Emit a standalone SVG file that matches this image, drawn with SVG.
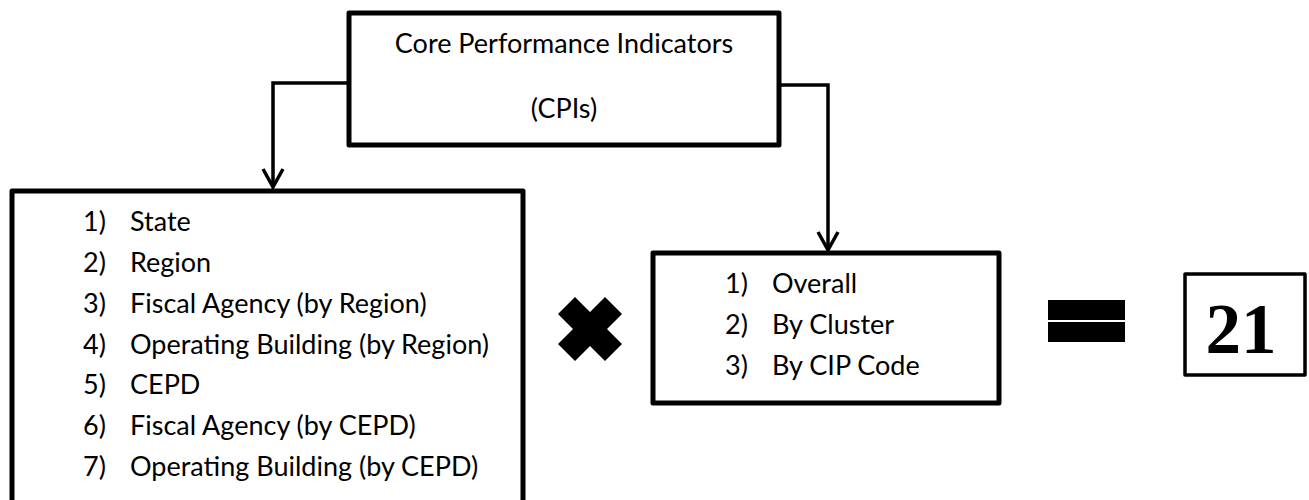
<svg xmlns="http://www.w3.org/2000/svg" width="1309" height="500" viewBox="0 0 1309 500">
<style>
.box{fill:#fff;stroke:#000;stroke-width:5;stroke-linejoin:round}
.t{font-family:Lato,"Open Sans","Liberation Sans",sans-serif;font-size:27px;fill:#000}
.c{text-anchor:middle}
.conn{fill:none;stroke:#000;stroke-width:3.5}
</style>
<defs>
<marker id="v" viewBox="-20 -12 22 24" markerWidth="22" markerHeight="24" refX="0" refY="0" orient="auto" markerUnits="userSpaceOnUse">
<path d="M-18,-10 L0,0 L-18,10" fill="none" stroke="#000" stroke-width="3.5"/>
</marker>
</defs>
<rect width="1309" height="500" fill="#fff"/>
<g id="connectors">
<path class="conn" d="M349,83 H273 V187" marker-end="url(#v)"/>
<path class="conn" d="M779,85 H828 V250" marker-end="url(#v)"/>
</g>
<g id="cpi">
<rect class="box" x="349" y="13" width="430" height="132"/>
<text class="t c" x="564" y="53">Core Performance Indicators</text>
<text class="t c" x="564" y="118">(CPIs)</text>
</g>
<g id="levels">
<rect class="box" x="12" y="191" width="511" height="320"/>
<text class="t" x="83" y="231">1)</text><text class="t" x="130" y="231">State</text>
<text class="t" x="83" y="272">2)</text><text class="t" x="130" y="272">Region</text>
<text class="t" x="83" y="313">3)</text><text class="t" x="130" y="313">Fiscal Agency (by Region)</text>
<text class="t" x="83" y="354">4)</text><text class="t" x="130" y="354">Operating Building (by Region)</text>
<text class="t" x="83" y="394">5)</text><text class="t" x="130" y="394">CEPD</text>
<text class="t" x="83" y="435">6)</text><text class="t" x="130" y="435">Fiscal Agency (by CEPD)</text>
<text class="t" x="83" y="476">7)</text><text class="t" x="130" y="476">Operating Building (by CEPD)</text>
</g>
<g id="times">
<polygon fill="#000" points="590,312 605,297 622,314 607,329 622,344 605,361 590,346 575,361 558,344 573,329 558,314 575,297"/>
</g>
<g id="scope">
<rect class="box" x="653" y="253" width="346" height="150"/>
<text class="t" x="725" y="293">1)</text><text class="t" x="772" y="293">Overall</text>
<text class="t" x="725" y="334">2)</text><text class="t" x="772" y="334">By Cluster</text>
<text class="t" x="725" y="375">3)</text><text class="t" x="772" y="375">By CIP Code</text>
</g>
<g id="equals">
<rect x="1048" y="300" width="77" height="20" fill="#000"/>
<rect x="1048" y="322" width="77" height="20" fill="#000"/>
</g>
<g id="result">
<rect x="1185" y="274" width="120" height="101" fill="#fff" stroke="#000" stroke-width="3.5" stroke-linejoin="round"/>
<text x="1241" y="353" text-anchor="middle" font-family="'Liberation Serif','Times New Roman',serif" font-weight="bold" font-size="71">21</text>
</g>
</svg>
